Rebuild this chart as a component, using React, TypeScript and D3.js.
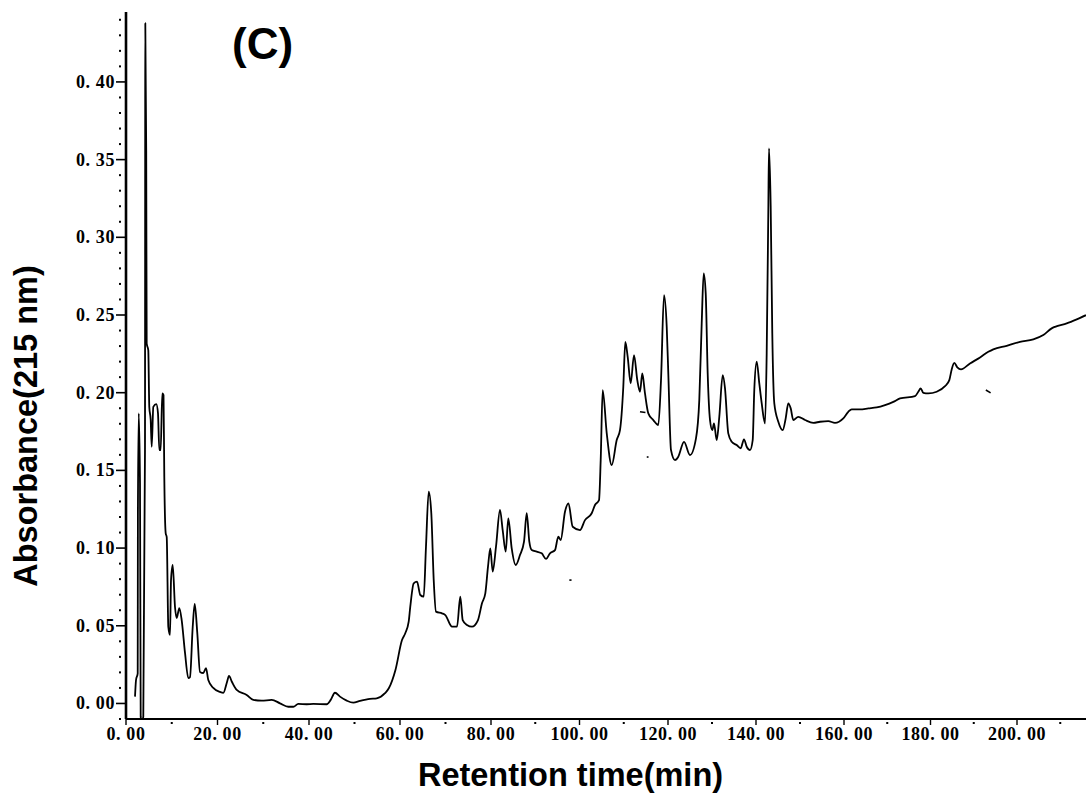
import React from "react";
import * as d3 from "d3";

// Retention time (min) and absorbance (AU, 215 nm)
const retentionTime = [
  1.97, 2.19, 2.56, 2.6, 2.78, 3.06, 3.21, 3.43, 3.78, 4.15,
  4.22, 4.42, 4.52, 4.87, 5.09, 5.4, 5.62, 5.97, 6.62, 6.99,
  7.28, 7.58, 7.93, 8.2, 8.37, 8.68, 8.9, 9.25, 9.62, 9.84,
  10.21, 10.71, 11.08, 11.65, 12.17, 12.9, 13.62, 13.99, 14.58, 15.02,
  15.58, 16.17, 16.9, 17.49, 17.99, 19.08, 20.55, 21.27, 22.08, 22.51,
  23.17, 24.2, 26.38, 27.83, 29.66, 31.85, 33.66, 35.48, 36.57, 37.66,
  39.5, 40.95, 43.89, 44.77, 45.71, 46.81, 48.29, 49.74, 51.21, 53.41,
  54.88, 56.7, 57.54, 59.0, 60.44, 61.16, 61.91, 62.26, 63.01, 63.74,
  64.46, 65.21, 65.71, 66.31, 66.88, 67.41, 67.91, 69.23, 69.96, 71.43,
  72.53, 73.25, 73.78, 74.73, 75.82, 77.14, 78.02, 78.75, 79.34, 79.85,
  80.38, 81.13, 82.03, 82.64, 83.32, 83.91, 84.68, 85.58, 86.55, 87.46,
  88.07, 88.66, 89.2, 90.33, 91.46, 92.43, 93.33, 94.46, 95.21, 95.75,
  96.72, 97.51, 98.46, 100.11, 101.24, 102.76, 103.5, 104.41, 104.79, 105.24,
  106.15, 107.28, 108.41, 109.15, 109.9, 110.35, 110.89, 111.57, 112.32, 113.06,
  113.67, 114.19, 114.8, 115.55, 116.68, 117.81, 118.42, 119.1, 119.71, 120.07,
  120.68, 121.59, 122.34, 123.64, 125.0, 126.36, 127.11, 127.66, 128.11, 128.57,
  129.02, 129.55, 130.07, 130.45, 131.07, 131.66, 132.43, 132.95, 133.7, 134.48,
  135.61, 136.52, 137.27, 137.89, 138.64, 139.25, 139.61, 140.16, 140.75, 141.3,
  142.05, 142.43, 142.8, 142.95, 143.34, 143.7, 144.16, 145.07, 146.07, 146.75,
  147.34, 147.89, 148.48, 149.61, 151.14, 153.02, 154.55, 156.43, 157.95, 159.84,
  160.99, 161.78, 163.7, 165.62, 167.56, 169.48, 171.4, 172.95, 176.42, 177.18,
  177.73, 178.34, 179.49, 181.43, 183.35, 184.35, 184.9, 185.5, 186.2, 187.05,
  189.13, 191.45, 193.37, 194.52, 197.62, 200.69, 203.77, 206.08, 208.02, 208.79,
  211.49, 213.81, 215.95,
];

const absorbance = [
  0.0044, 0.0151, 0.0194, 0.1202, 0.1867, 0.1418, -0.0085, -0.012, -0.0085, 0.1631,
  0.4378, 0.356, 0.2317, 0.2274, 0.1909, 0.1824, 0.1652, 0.1909, 0.1927, 0.1869,
  0.1631, 0.1631, 0.1996, 0.1985, 0.1459, 0.1095, 0.1071, 0.0492, 0.0441, 0.0794,
  0.0891, 0.0621, 0.055, 0.0614, 0.0537, 0.0325, 0.0164, 0.017, 0.0492, 0.064,
  0.0454, 0.0203, 0.0196, 0.0228, 0.0151, 0.01, 0.0074, 0.0068, 0.0138, 0.0177,
  0.0138, 0.0087, 0.0055, 0.0023, 0.0018, 0.0023, 0.0001, -0.0021, -0.0021, -0.0003,
  -0.0005, -0.0003, -0.0005, 0.0023, 0.0069, 0.0044, 0.0018, 0.0005, 0.0016, 0.0029,
  0.0033, 0.0066, 0.0098, 0.0216, 0.0408, 0.0452, 0.0526, 0.0623, 0.0773, 0.0784,
  0.0698, 0.0687, 0.1009, 0.1363, 0.1224, 0.0794, 0.0591, 0.058, 0.0569, 0.0494,
  0.0494, 0.0687, 0.0537, 0.0505, 0.0494, 0.0537, 0.0645, 0.0709, 0.088, 0.0998,
  0.0848, 0.1009, 0.1245, 0.1116, 0.0977, 0.1191, 0.0998, 0.0891, 0.0955, 0.1041,
  0.1224, 0.1041, 0.0987, 0.0977, 0.0966, 0.093, 0.0966, 0.0987, 0.1073, 0.1052,
  0.1234, 0.1288, 0.1137, 0.1116, 0.118, 0.1224, 0.1277, 0.1309, 0.1566, 0.2017,
  0.174, 0.1534, 0.1695, 0.1759, 0.2038, 0.2327, 0.2231, 0.206, 0.2242, 0.2081,
  0.2006, 0.2124, 0.1995, 0.1867, 0.1824, 0.1792, 0.2081, 0.2628, 0.2424, 0.2124,
  0.1631, 0.1566, 0.1588, 0.1684, 0.1599, 0.1706, 0.1952, 0.2446, 0.2767, 0.2639,
  0.2124, 0.1824, 0.1759, 0.1802, 0.1695, 0.1845, 0.2113, 0.203, 0.1738, 0.1684,
  0.1663, 0.1642, 0.17, 0.1652, 0.1631, 0.1695, 0.2017, 0.2199, 0.206, 0.1931,
  0.1802, 0.2253, 0.3175, 0.3572, 0.3196, 0.2382, 0.1931, 0.1813, 0.1759, 0.1835,
  0.1931, 0.1899, 0.1824, 0.1845, 0.1824, 0.1806, 0.1813, 0.1817, 0.1806, 0.1835,
  0.1877, 0.1893, 0.1893, 0.1899, 0.1905, 0.192, 0.1941, 0.1963, 0.1978, 0.2006,
  0.2028, 0.1999, 0.1995, 0.2006, 0.2042, 0.2081, 0.215, 0.2192, 0.2163, 0.215,
  0.2188, 0.2227, 0.2263, 0.2279, 0.2302, 0.2327, 0.2343, 0.2371, 0.2414, 0.2424,
  0.2446, 0.2472, 0.2499,
];

// small detached trace fragments (recorder artefacts): [t0, v0, t1, v1]
const fragments = [
  [113.67, 0.1877, 114.9, 0.1872],
  [115.2, 0.1586, 115.6, 0.1586],
  [97.7, 0.0794, 98.2, 0.0794],
  [192.8, 0.2017, 193.9, 0.1999],
];

const yMajorTicks = [0, 0.05, 0.1, 0.15, 0.2, 0.25, 0.3, 0.35, 0.4];
const yTickLabels = ["0. 00", "0. 05", "0. 10", "0. 15", "0. 20", "0. 25", "0. 30", "0. 35", "0. 40"];
const xMajorTicks = [0, 20, 40, 60, 80, 100, 120, 140, 160, 180, 200];
const xTickLabels = ["0. 00", "20. 00", "40. 00", "60. 00", "80. 00", "100. 00", "120. 00", "140. 00", "160. 00", "180. 00", "200. 00"];
const xMinorTicks = [10, 30, 50, 70, 90, 110, 130, 150, 170, 190, 210];

const W = 1086;
const H = 793;

export default function App() {
  // recorder paper has a slightly non-uniform time axis, hence a polylinear scale
  const x = d3
    .scaleLinear()
    .domain([0, 40, 80, 120, 160, 200])
    .range([126, 309, 491, 668, 844, 1017]);
  const y = d3.scaleLinear().domain([-0.01, 0.445]).range([719, 12]);

  const data = retentionTime.map((t, i) => [t, absorbance[i]] as [number, number]);
  const line = d3
    .line<[number, number]>()
    .x((d) => x(d[0]))
    .y((d) => y(d[1]))
    .curve(d3.curveMonotoneX);

  const yMinor: number[] = [];
  for (let k = -1; k <= 44; k++) {
    if (k % 5 !== 0) yMinor.push(k / 100);
  }

  const tickFont = "'Liberation Serif', 'DejaVu Serif', serif";
  const titleFont = "'Liberation Sans', Arial, sans-serif";
  const x0 = x(0);
  const yBase = y(-0.01);

  return (
    <svg
      width={W}
      height={H}
      viewBox={`0 0 ${W} ${H}`}
      style={{ position: "absolute", left: 0, top: 0, background: "#fff" }}
    >
      <rect x={0} y={0} width={W} height={H} fill="#fff" />
      <defs>
        <clipPath id="plotClip">
          <rect x={x0} y={0} width={W - x0} height={yBase + 1} />
        </clipPath>
      </defs>

      {/* trace */}
      <g clipPath="url(#plotClip)">
        <path d={line(data) || ""} fill="none" stroke="#000" strokeWidth={1.8} strokeLinejoin="round" />
        {fragments.map((f, i) => (
          <line
            key={i}
            x1={x(f[0])}
            y1={y(f[1])}
            x2={x(f[2])}
            y2={y(f[3])}
            stroke="#000"
            strokeWidth={1.6}
          />
        ))}
      </g>

      {/* axes */}
      <line x1={x0} y1={y(0.445)} x2={x0} y2={yBase} stroke="#000" strokeWidth={2.6} />
      <line x1={x0} y1={yBase} x2={W} y2={yBase} stroke="#000" strokeWidth={2} />

      {/* y ticks */}
      {yMinor.map((v) => (
        <rect key={"ym" + v} x={x0 - 7} y={y(v) - 1} width={2} height={2} fill="#000" />
      ))}
      {yMajorTicks.map((v, i) => (
        <g key={"yt" + v}>
          <line x1={x0 - 10} x2={x0} y1={y(v)} y2={y(v)} stroke="#000" strokeWidth={1.6} />
          <text
            x={x0 - 11}
            y={y(v) + 6}
            textAnchor="end"
            fontFamily={tickFont}
            fontWeight="bold"
            fontSize={18}
            letterSpacing={0.6}
          >
            {yTickLabels[i]}
          </text>
        </g>
      ))}

      {/* x ticks */}
      {xMinorTicks.map((t) => (
        <rect key={"xm" + t} x={x(t) - 1} y={yBase + 3} width={2} height={2} fill="#000" />
      ))}
      {xMajorTicks.map((t, i) => (
        <g key={"xt" + t}>
          <line x1={x(t)} x2={x(t)} y1={yBase} y2={yBase + 6} stroke="#000" strokeWidth={1.4} />
          <text
            x={x(t)}
            y={yBase + 21}
            textAnchor="middle"
            fontFamily={tickFont}
            fontWeight="bold"
            fontSize={18}
            letterSpacing={0.6}
          >
            {xTickLabels[i]}
          </text>
        </g>
      ))}

      {/* axis titles */}
      <text
        x={570.5}
        y={786}
        textAnchor="middle"
        fontFamily={titleFont}
        fontWeight="bold"
        fontSize={32.5}
      >
        Retention time(min)
      </text>
      <text
        transform={`translate(37, 426) rotate(-90)`}
        textAnchor="middle"
        fontFamily={titleFont}
        fontWeight="bold"
        fontSize={32.5}
      >
        Absorbance(215 nm)
      </text>

      {/* panel label */}
      <text x={232} y={59} fontFamily={titleFont} fontWeight="bold" fontSize={44}>
        (C)
      </text>
    </svg>
  );
}
